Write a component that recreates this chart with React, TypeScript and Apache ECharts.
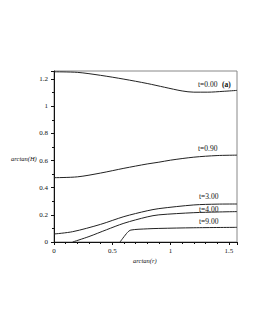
import React, { useEffect, useRef } from "react";
import * as echarts from "echarts";

const xTickLabels = ["0", "0.5", "1", "1.5"];
const curveLabels = ["t=0.00", "t=0.90", "t=3.00", "t=4.00", "t=9.00"];

const t0X = [0, 0.2, 0.4, 0.6, 0.8, 0.95, 1.1, 1.2, 1.32, 1.45, 1.5708];
const t0Y = [1.254, 1.25, 1.228, 1.2, 1.168, 1.14, 1.113, 1.104, 1.104, 1.11, 1.117];

const t1X = [0, 0.2, 0.4, 0.6, 0.8, 0.9, 1.0, 1.2, 1.4, 1.5708];
const t1Y = [0.474, 0.48, 0.508, 0.543, 0.575, 0.588, 0.603, 0.625, 0.637, 0.64];

const t3X = [0, 0.16, 0.4, 0.6, 0.8, 0.9, 1.2, 1.4, 1.5708];
const t3Y = [0.059, 0.076, 0.13, 0.187, 0.23, 0.246, 0.273, 0.279, 0.28];

const t4X = [0.16, 0.3, 0.45, 0.6, 0.8, 0.9, 1.2, 1.4, 1.5708];
const t4Y = [0, 0.04, 0.09, 0.138, 0.185, 0.2, 0.216, 0.221, 0.224];

const t9X = [0.567, 0.63, 0.66, 0.8, 0.9, 1.2, 1.5708];
const t9Y = [0, 0.07, 0.088, 0.097, 0.1, 0.105, 0.108];

const zip = (xs: number[], ys: number[]) => xs.map((x, i) => [x, ys[i]]);

const FONT = "Liberation Serif";

export default function App() {
  const ref = useRef<HTMLDivElement>(null);
  useEffect(() => {
    if (!ref.current) return;
    const chart = echarts.init(ref.current, undefined, { renderer: "svg" });
    const lineSeries = (xs: number[], ys: number[]) => ({
      type: "line",
      data: zip(xs, ys),
      smooth: 0.3,
      showSymbol: false,
      symbol: "none",
      lineStyle: { color: "#222", width: 1 },
    });
    const labelText = (text: string, x: number, y: number) => ({
      type: "text",
      x,
      y,
      style: { text, font: `7.5px ${FONT}`, fill: "#111", textVerticalAlign: "middle" },
    });
    chart.setOption({
      animation: false,
      backgroundColor: "#fff",
      grid: {
        left: 54,
        right: 18,
        top: 71,
        bottom: 88,
        show: true,
        borderColor: "#888",
        borderWidth: 1,
      },
      xAxis: {
        type: "value",
        min: 0,
        max: 1.5708,
        interval: 0.5,
        axisLine: { show: true, onZero: false, lineStyle: { color: "#111", width: 1 } },
        axisTick: { show: true, length: 3, lineStyle: { color: "#111" } },
        minorTick: { show: true, splitNumber: 5, length: 2, lineStyle: { color: "#111" } },
        splitLine: { show: false },
        axisLabel: {
          fontFamily: FONT,
          fontSize: 7,
          color: "#111",
          margin: 5,
          showMaxLabel: false,
          formatter: (v: number) => xTickLabels[Math.round(v / 0.5)] ?? "",
        },
      },
      yAxis: {
        type: "value",
        min: 0,
        max: 1.26,
        interval: 0.2,
        axisLine: { show: true, lineStyle: { color: "#111", width: 1 } },
        axisTick: { show: true, length: 3, lineStyle: { color: "#111" } },
        minorTick: { show: true, splitNumber: 2, length: 2, lineStyle: { color: "#111" } },
        splitLine: { show: false },
        axisLabel: {
          fontFamily: FONT,
          fontSize: 7,
          color: "#111",
          margin: 6,
          showMaxLabel: false,
        },
      },
      graphic: [
        labelText(curveLabels[0], 198, 84),
        {
          type: "text",
          x: 222,
          y: 84,
          style: { text: "(a)", font: `bold 7.5px ${FONT}`, fill: "#111", textVerticalAlign: "middle" },
        },
        labelText(curveLabels[1], 198, 148.5),
        labelText(curveLabels[2], 199, 196),
        labelText(curveLabels[3], 199, 209),
        labelText(curveLabels[4], 199, 221),
        {
          type: "text",
          x: 11,
          y: 158,
          style: { text: "arctan(H)", font: `italic 6.5px ${FONT}`, fill: "#111", textVerticalAlign: "middle" },
        },
        {
          type: "text",
          x: 133,
          y: 260,
          style: { text: "arctan(r)", font: `italic 6.5px ${FONT}`, fill: "#111", textVerticalAlign: "middle" },
        },
      ],
      series: [
        lineSeries(t0X, t0Y),
        lineSeries(t1X, t1Y),
        lineSeries(t3X, t3Y),
        lineSeries(t4X, t4Y),
        lineSeries(t9X, t9Y),
      ],
    });
    return () => chart.dispose();
  }, []);
  return (
    <div
      ref={ref}
      style={{ position: "fixed", left: 0, top: 0, width: 255, height: 330, background: "#fff" }}
    />
  );
}
